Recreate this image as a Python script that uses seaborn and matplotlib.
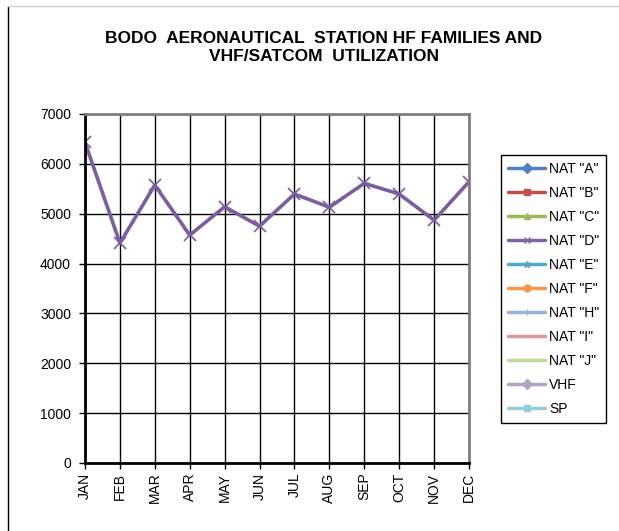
import matplotlib
matplotlib.use("Agg")
import matplotlib.pyplot as plt
from matplotlib.lines import Line2D
import numpy as np
import pandas as pd
import seaborn as sns

# data (only NAT "D" has visible values)
months = ['JAN', 'FEB', 'MAR', 'APR', 'MAY', 'JUN', 'JUL', 'AUG', 'SEP', 'OCT', 'NOV', 'DEC']
nat_d = [6430, 4410, 5575, 4570, 5140, 4750, 5395, 5130, 5610, 5395, 4870, 5640]
series_names = ['NAT "A"', 'NAT "B"', 'NAT "C"', 'NAT "D"', 'NAT "E"', 'NAT "F"',
                'NAT "H"', 'NAT "I"', 'NAT "J"', 'VHF', 'SP']
series_colors = ['#4F81BD', '#C0504D', '#9BBB59', '#8064A2', '#4BACC6', '#F79646',
                 '#95B3D7', '#D99694', '#C3D69B', '#B3A2C7', '#93CDDD']
series_markers = ['D', 's', '^', 'x', '*', 'o', '|', None, None, 'D', 's']

sns.set_style('white')
plt.rcParams['font.family'] = ['Liberation Sans', 'DejaVu Sans']
plt.rcParams['text.color'] = 'black'
plt.rcParams['xtick.color'] = 'black'
plt.rcParams['ytick.color'] = 'black'

df = pd.DataFrame({'month': months, 'value': nat_d})
df['pos'] = np.arange(len(months))

fig = plt.figure(figsize=(6.19, 5.31), dpi=100)
ax = fig.add_axes([85 / 619, 68 / 531, 384 / 619, 349 / 531])

sns.lineplot(data=df, x='pos', y='value', ax=ax, color='#7B5E9E', linewidth=2.6,
             marker='x', markersize=9, markeredgewidth=1.2, markeredgecolor='#7B5E9E')

ax.set_xlim(0, len(months) - 1)
ax.set_ylim(0, 7000)
ax.set_yticks(range(0, 7001, 1000))
ax.set_xticks(df['pos'])
ax.set_xticklabels(months, rotation=90)
ax.set_xlabel('')
ax.set_ylabel('')
ax.tick_params(axis='both', labelsize=10, length=4, width=1, color='black',
               labelcolor='black', direction='out', bottom=True, left=True, pad=3)
ax.tick_params(axis='y', pad=6)

ax.grid(True, color='black', linewidth=1)
ax.set_axisbelow(True)
for side in ['left', 'bottom']:
    ax.spines[side].set_color('black')
    ax.spines[side].set_linewidth(2)
for side in ['top', 'right']:
    ax.spines[side].set_color('#808080')
    ax.spines[side].set_linewidth(2)

fig.suptitle('BODO  AERONAUTICAL  STATION HF FAMILIES AND\nVHF/SATCOM  UTILIZATION',
             x=0.523, y=1 - 31 / 531, fontsize=12.5, fontweight='bold', linespacing=1.25,
             color='black')

handles = []
for name, col, mk in zip(series_names, series_colors, series_markers):
    handles.append(Line2D([], [], color=col, linewidth=2.5, marker=mk, markersize=5,
                          markeredgecolor=col, markerfacecolor=col))
leg = fig.legend(handles, series_names, loc='upper left',
                 bbox_to_anchor=(501 / 619, 1 - 155 / 531), fontsize=10,
                 frameon=True, fancybox=False, edgecolor='black', framealpha=1,
                 handlelength=2.7, labelspacing=0.72, handletextpad=0.25,
                 borderpad=0.5, borderaxespad=0, labelcolor='black')
leg.get_frame().set_linewidth(1)

# chart area border as in the original
fig.add_artist(Line2D([8 / 619, 8 / 619], [0, 1 - 6 / 531], color='black', linewidth=1))
fig.add_artist(Line2D([8 / 619, 1], [1 - 6 / 531, 1 - 6 / 531], color='#D0D0D0', linewidth=1))

fig.savefig('out.png', dpi=100)
